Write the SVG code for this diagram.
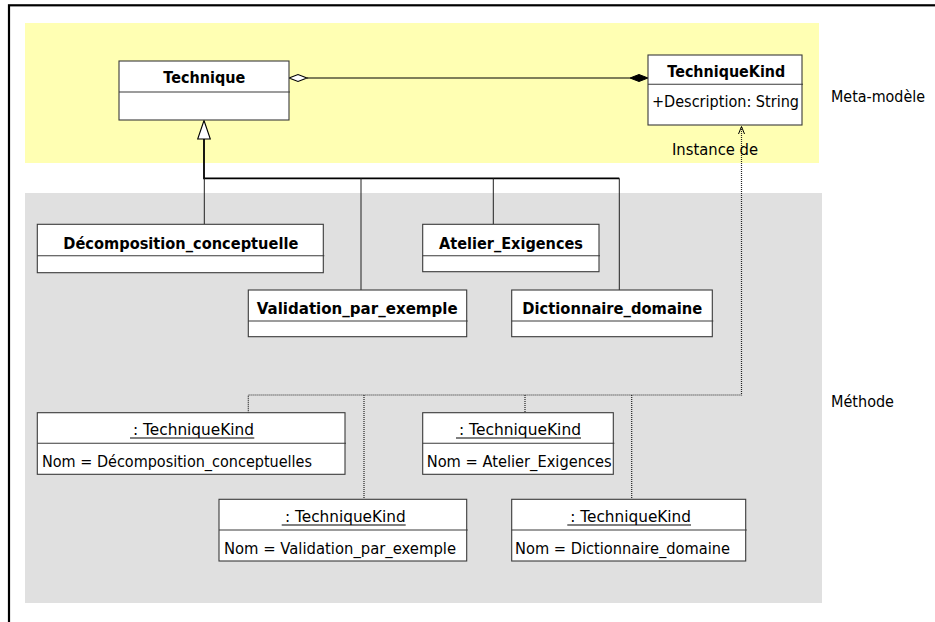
<svg xmlns="http://www.w3.org/2000/svg" width="935" height="622" viewBox="0 0 935 622">
  <style>
    .frame { fill: none; stroke: #000; stroke-width: 2.2; }
    .box { fill: #fff; stroke: #3a3a3a; stroke-width: 1.1; }
    .div { stroke: #3a3a3a; stroke-width: 1.1; }
    .t { font-family: "DejaVu Sans", "Liberation Sans", sans-serif; font-size: 16px; fill: #000; }
    .b { font-weight: bold; font-size: 15.5px; }
    .solid { fill: none; stroke: #000; stroke-width: 1.1; }
    .trunk { fill: none; stroke: #000; stroke-width: 1.8; }
    .branch { fill: none; stroke: #202020; stroke-width: 1; }
    .dot { fill: none; stroke: #222; stroke-width: 1.2; stroke-dasharray: 1 1; }
    .ul { stroke: #000; stroke-width: 1.1; }
  </style>

  <!-- page frame (runs past the right and bottom edges) -->
  <rect class="frame" x="9" y="5.3" width="1000" height="1000"/>

  <!-- layer backgrounds -->
  <rect x="25" y="23" width="794" height="140" fill="#ffffb3"/>
  <rect x="25" y="193" width="797" height="410" fill="#e0e0e0"/>
  <text class="t" x="831" y="102" textLength="94" lengthAdjust="spacingAndGlyphs">Meta-modèle</text>
  <text class="t" x="831" y="407" textLength="63" lengthAdjust="spacingAndGlyphs">Méthode</text>

  <!-- connectors -->
  <g id="connectors">
    <!-- aggregation / composition between Technique and TechniqueKind -->
    <line class="solid" x1="307" y1="78" x2="630" y2="78"/>
    <polygon points="289,78 298,74.5 307,78 298,81.5" fill="#fff" stroke="#000" stroke-width="1.1"/>
    <polygon points="630,78 639,74.5 648,78 639,81.5" fill="#000" stroke="#000" stroke-width="1"/>

    <!-- generalization tree -->
    <polygon points="204,120.5 197.7,139 210.3,139" fill="#fff" stroke="#000" stroke-width="1.1"/>
    <polyline class="trunk" points="204,139 204,178.3 619.3,178.3"/>
    <line class="branch" x1="204.3" y1="178.3" x2="204.3" y2="224.3"/>
    <line class="branch" x1="361" y1="178.3" x2="361" y2="290"/>
    <line class="branch" x1="493.3" y1="178.3" x2="493.3" y2="224.3"/>
    <line class="branch" x1="619.3" y1="178.3" x2="619.3" y2="290"/>

    <!-- instance-of links to TechniqueKind -->
    <polyline class="dot" points="248.3,412.7 248.3,395 741.5,395 741.5,127"/>
    <line class="dot" x1="364" y1="395" x2="364" y2="499.3"/>
    <line class="dot" x1="525" y1="395" x2="525" y2="412.7"/>
    <line class="dot" x1="631.7" y1="395" x2="631.7" y2="499.3"/>
    <polyline points="738.5,134 741.5,126.5 744.5,134" fill="none" stroke="#000" stroke-width="1"/>
    <text class="t" x="672" y="154.5" textLength="86" lengthAdjust="spacingAndGlyphs">Instance de</text>
  </g>

  <!-- meta-model classes -->
  <g id="technique">
    <rect class="box" x="119" y="61" width="170" height="59"/>
    <line class="div" x1="119" y1="92" x2="290" y2="92"/>
    <text class="t b" x="163.3" y="83" textLength="82" lengthAdjust="spacingAndGlyphs">Technique</text>
  </g>

  <g id="technique-kind">
    <rect class="box" x="648" y="55" width="154" height="70"/>
    <line class="div" x1="648" y1="84.3" x2="803" y2="84.3"/>
    <text class="t b" x="667.3" y="77" textLength="118" lengthAdjust="spacingAndGlyphs">TechniqueKind</text>
    <text class="t" x="652" y="107" textLength="147" lengthAdjust="spacingAndGlyphs">+Description: String</text>
  </g>

  <!-- method-level classes -->
  <g id="decomposition-conceptuelle">
    <rect class="box" x="37.3" y="224.3" width="286" height="48.4"/>
    <line class="div" x1="37.3" y1="255.7" x2="324.3" y2="255.7"/>
    <text class="t b" x="63.3" y="248.5" textLength="235" lengthAdjust="spacingAndGlyphs">Décomposition_conceptuelle</text>
  </g>

  <g id="atelier-exigences">
    <rect class="box" x="422.7" y="224.3" width="176.3" height="47.4"/>
    <line class="div" x1="422.7" y1="255.7" x2="600" y2="255.7"/>
    <text class="t b" x="439" y="248.5" textLength="144" lengthAdjust="spacingAndGlyphs">Atelier_Exigences</text>
  </g>

  <g id="validation-par-exemple">
    <rect class="box" x="248.3" y="290" width="218.4" height="46.7"/>
    <line class="div" x1="248.3" y1="321" x2="467.7" y2="321"/>
    <text class="t b" x="256.7" y="314" textLength="201" lengthAdjust="spacingAndGlyphs">Validation_par_exemple</text>
  </g>

  <g id="dictionnaire-domaine">
    <rect class="box" x="511.7" y="290" width="200.6" height="46.7"/>
    <line class="div" x1="511.7" y1="321" x2="713.3" y2="321"/>
    <text class="t b" x="522.3" y="314" textLength="180" lengthAdjust="spacingAndGlyphs">Dictionnaire_domaine</text>
  </g>

  <!-- TechniqueKind instances -->
  <g id="obj-decomposition">
    <rect class="box" x="37.3" y="412.7" width="307.7" height="61.6"/>
    <line class="div" x1="37.3" y1="443.3" x2="346" y2="443.3"/>
    <text class="t" x="133" y="435.3" textLength="121" lengthAdjust="spacingAndGlyphs">: TechniqueKind</text>
    <line class="ul" x1="130" y1="438" x2="254.3" y2="438"/>
    <text class="t" x="42" y="467" textLength="270" lengthAdjust="spacingAndGlyphs">Nom = Décomposition_conceptuelles</text>
  </g>

  <g id="obj-atelier">
    <rect class="box" x="422.7" y="412.7" width="190.6" height="61.6"/>
    <line class="div" x1="422.7" y1="443.3" x2="614.3" y2="443.3"/>
    <text class="t" x="459" y="435.3" textLength="122" lengthAdjust="spacingAndGlyphs">: TechniqueKind</text>
    <line class="ul" x1="456" y1="438" x2="581" y2="438"/>
    <text class="t" x="426.7" y="467" textLength="185" lengthAdjust="spacingAndGlyphs">Nom = Atelier_Exigences</text>
  </g>

  <g id="obj-validation">
    <rect class="box" x="219" y="499.3" width="247.7" height="61.7"/>
    <line class="div" x1="219" y1="530" x2="467.7" y2="530"/>
    <text class="t" x="285" y="522.3" textLength="120.7" lengthAdjust="spacingAndGlyphs">: TechniqueKind</text>
    <line class="ul" x1="281.7" y1="525" x2="405.7" y2="525"/>
    <text class="t" x="224" y="553.7" textLength="232" lengthAdjust="spacingAndGlyphs">Nom = Validation_par_exemple</text>
  </g>

  <g id="obj-dictionnaire">
    <rect class="box" x="511.7" y="499.3" width="234" height="61.7"/>
    <line class="div" x1="511.7" y1="530" x2="746.7" y2="530"/>
    <text class="t" x="570.3" y="522.3" textLength="120.7" lengthAdjust="spacingAndGlyphs">: TechniqueKind</text>
    <line class="ul" x1="567.3" y1="525" x2="691" y2="525"/>
    <text class="t" x="515" y="553.7" textLength="215" lengthAdjust="spacingAndGlyphs">Nom = Dictionnaire_domaine</text>
  </g>
</svg>
